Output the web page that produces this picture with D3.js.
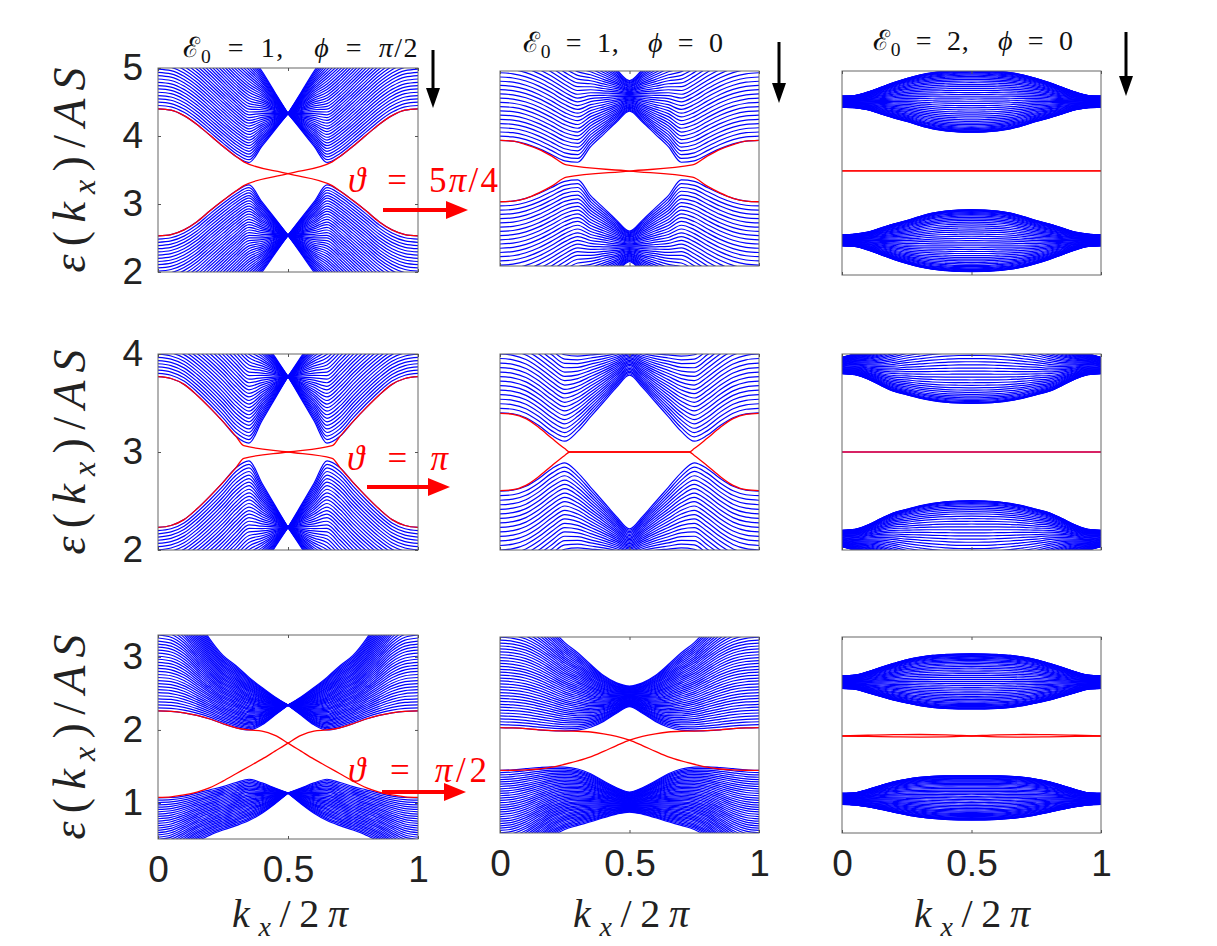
<!DOCTYPE html>
<html>
<head>
<meta charset="utf-8">
<script src="https://cdn.jsdelivr.net/npm/d3@7"></script>
<style>
  html, body { margin: 0; padding: 0; background: #fff; }
  svg { display: block; }
</style>
</head>
<body>
<svg id="chart" width="1217" height="946"></svg>
<script>
// k_x/2pi sample points on the half zone, bands are mirror symmetric about 0.5
const kHalf = [0, 0.05, 0.1, 0.15, 0.2, 0.25, 0.3, 0.35, 0.4, 0.45, 0.5];
const kFull = [0, 0.05, 0.1, 0.15, 0.2, 0.25, 0.3, 0.35, 0.4, 0.45, 0.5,
               0.55, 0.6, 0.65, 0.7, 0.75, 0.8, 0.85, 0.9, 0.95, 1];
const kEdge = [0, 0.1, 0.2, 0.3, 0.4, 0.5, 0.6, 0.7, 0.8, 0.9, 1];

// row 1, E0=1, phi=pi/2 (theta = 5pi/4)
const p1UpIn  = [4.40, 4.38, 4.30, 4.17, 4.01, 3.85, 3.70, 3.61, 3.85, 4.09, 4.33];
const p1UpOut = [6.30, 6.27, 6.18, 6.03, 5.84, 5.63, 5.42, 5.22, 4.95, 4.64, 4.33];
const p1LoIn  = [2.53, 2.55, 2.62, 2.74, 2.90, 3.05, 3.19, 3.28, 3.03, 2.79, 2.54];
const p1LoOut = [0.70, 0.73, 0.82, 0.96, 1.14, 1.34, 1.55, 1.76, 2.00, 2.27, 2.54];
const p1RedK  = [0, 0.05, 0.1, 0.15, 0.2, 0.25, 0.3, 0.33, 0.5, 0.67, 0.7, 0.75, 0.8, 0.85, 0.9, 0.95, 1];
const p1RedE  = [4.40, 4.38, 4.30, 4.17, 4.01, 3.85, 3.70, 3.62, 3.445, 3.27, 3.19, 3.05, 2.90, 2.74, 2.62, 2.55, 2.53];

// row 1, E0=1, phi=0
const p2UpIn  = [3.95, 3.94, 3.90, 3.83, 3.74, 3.65, 3.63, 3.86, 4.04, 4.22, 4.38];
const p2UpOut = [6.00, 5.98, 5.93, 5.85, 5.74, 5.60, 5.46, 5.31, 5.15, 4.99, 4.83];
const p2LoIn  = [3.05, 3.06, 3.10, 3.17, 3.26, 3.35, 3.37, 3.14, 2.96, 2.78, 2.62];
const p2LoOut = [1.00, 1.02, 1.07, 1.15, 1.26, 1.40, 1.54, 1.69, 1.85, 2.01, 2.17];
const p2RedK  = [0, 0.05, 0.1, 0.15, 0.2, 0.257, 0.5, 0.743, 0.8, 0.85, 0.9, 0.95, 1];
const p2RedE  = [3.95, 3.94, 3.89, 3.82, 3.72, 3.59, 3.50, 3.41, 3.28, 3.18, 3.10, 3.06, 3.05];

// row 1, E0=2, phi=0
const p3UpTop = [4.60, 4.61, 4.66, 4.73, 4.80, 4.86, 4.91, 4.945, 4.965, 4.978, 4.98];
const p3UpBot = [4.44, 4.43, 4.40, 4.34, 4.28, 4.23, 4.17, 4.12, 4.09, 4.075, 4.07];
const p3LoTop = [2.56, 2.57, 2.60, 2.66, 2.72, 2.77, 2.83, 2.88, 2.91, 2.925, 2.93];
const p3LoBot = [2.40, 2.39, 2.34, 2.27, 2.20, 2.14, 2.09, 2.055, 2.035, 2.022, 2.02];
const p3RedE  = [3.5, 3.5, 3.5, 3.5, 3.5, 3.5, 3.5, 3.5, 3.5, 3.5, 3.5];

// row 2, E0=1, phi=pi/2 (theta = pi)
const p4UpIn  = [3.77, 3.75, 3.69, 3.58, 3.45, 3.31, 3.16, 3.09, 3.32, 3.545, 3.77];
const p4UpOut = [4.91, 4.90, 4.87, 4.82, 4.74, 4.64, 4.52, 4.36, 4.17, 3.97, 3.77];
const p4LoIn  = [2.23, 2.25, 2.31, 2.42, 2.55, 2.69, 2.84, 2.91, 2.68, 2.455, 2.23];
const p4LoOut = [1.09, 1.10, 1.13, 1.18, 1.26, 1.36, 1.48, 1.64, 1.83, 2.03, 2.23];
const p4RedK  = [0, 0.05, 0.1, 0.15, 0.2, 0.25, 0.3, 0.33, 0.5, 0.67, 0.7, 0.75, 0.8, 0.85, 0.9, 0.95, 1];
const p4RedE  = [3.77, 3.75, 3.69, 3.58, 3.45, 3.31, 3.16, 3.065, 3.0, 2.935, 2.84, 2.69, 2.55, 2.42, 2.31, 2.25, 2.23];

// row 2, E0=1, phi=0
const p5UpIn  = [3.40, 3.39, 3.35, 3.27, 3.17, 3.11, 3.21, 3.36, 3.51, 3.66, 3.785];
const p5UpOut = [5.20, 5.18, 5.13, 5.05, 4.95, 4.83, 4.71, 4.59, 4.47, 4.37, 4.32];
const p5LoIn  = [2.60, 2.61, 2.65, 2.73, 2.83, 2.89, 2.79, 2.64, 2.49, 2.34, 2.215];
const p5LoOut = [0.80, 0.82, 0.87, 0.95, 1.05, 1.17, 1.29, 1.41, 1.53, 1.63, 1.68];
const p5RedK  = [0, 0.05, 0.1, 0.15, 0.2, 0.25, 0.27, 0.5, 0.73, 0.75, 0.8, 0.85, 0.9, 0.95, 1];
const p5RedE  = [3.395, 3.385, 3.34, 3.25, 3.14, 3.035, 3.0, 3.0, 3.0, 2.965, 2.86, 2.75, 2.66, 2.615, 2.605];

// row 2, E0=2, phi=0
const p6UpTop = [3.965, 4.0, 4.03, 4.09, 4.17, 4.24, 4.30, 4.35, 4.385, 4.405, 4.41];
const p6UpBot = [3.80, 3.79, 3.745, 3.68, 3.62, 3.585, 3.55, 3.525, 3.508, 3.50, 3.497];
const p6LoTop = [2.20, 2.21, 2.255, 2.32, 2.38, 2.415, 2.45, 2.475, 2.492, 2.50, 2.503];
const p6LoBot = [2.035, 2.0, 1.97, 1.91, 1.83, 1.76, 1.70, 1.65, 1.615, 1.595, 1.59];
const p6RedE  = [3.0, 3.0, 3.0, 3.0, 3.0, 3.0, 3.0, 3.0, 3.0, 3.0, 3.0];

// row 3, E0=1, phi=pi/2 (theta = pi/2)
const p7UpIn  = [2.26, 2.255, 2.235, 2.20, 2.15, 2.085, 2.03, 2.00, 2.07, 2.205, 2.34];
const p7UpOut = [4.05, 4.00, 3.82, 3.52, 3.24, 3.02, 2.88, 2.72, 2.58, 2.45, 2.34];
const p7LoIn  = [1.07, 1.075, 1.095, 1.135, 1.18, 1.225, 1.28, 1.325, 1.275, 1.205, 1.136];
const p7LoOut = [0.15, 0.20, 0.33, 0.47, 0.56, 0.63, 0.69, 0.76, 0.86, 0.99, 1.136];
const p7RedE  = [2.26, 2.255, 2.235, 2.20, 2.15, 2.085, 2.03, 2.00, 1.985, 1.925, 1.82,
                 1.71, 1.60, 1.50, 1.40, 1.30, 1.21, 1.15, 1.11, 1.085, 1.076];

// row 3, E0=1, phi=0
const p8UpIn  = [1.99, 1.985, 1.975, 1.96, 1.95, 1.945, 1.955, 1.995, 2.075, 2.185, 2.275];
const p8UpOut = [3.70, 3.68, 3.62, 3.50, 3.33, 3.15, 3.01, 2.85, 2.70, 2.60, 2.557];
const p8LoIn  = [1.407, 1.415, 1.43, 1.445, 1.455, 1.45, 1.425, 1.36, 1.26, 1.17, 1.11];
const p8LoOut = [0.05, 0.08, 0.18, 0.34, 0.50, 0.60, 0.655, 0.705, 0.76, 0.81, 0.838];
const p8RedE  = [1.99, 1.985, 1.975, 1.96, 1.95, 1.943, 1.94, 1.93, 1.905, 1.87, 1.82,
                 1.745, 1.665, 1.59, 1.535, 1.49, 1.45, 1.425, 1.412, 1.408, 1.407];

// row 3, E0=2, phi=0
const p9UpTop = [2.72, 2.73, 2.775, 2.835, 2.89, 2.94, 2.975, 3.0, 3.012, 3.018, 3.02];
const p9UpBot = [2.55, 2.54, 2.49, 2.44, 2.39, 2.35, 2.315, 2.29, 2.277, 2.27, 2.268];
const p9LoTop = [1.118, 1.125, 1.17, 1.225, 1.275, 1.31, 1.335, 1.35, 1.356, 1.358, 1.358];
const p9LoBot = [0.968, 0.96, 0.935, 0.90, 0.86, 0.825, 0.795, 0.775, 0.762, 0.756, 0.754];
const p9RedE  = [1.9, 1.91, 1.918, 1.92, 1.915, 1.9, 1.888, 1.885, 1.888, 1.895, 1.9];

const xTicks = [0, 0.5, 1];
const titleE0 = ["1", "1", "2"];
const titlePhi = [["π", "/2"], ["", "0"], ["", "0"]];
const thetas = [["5", "π", "/4"], ["", "π", ""], ["", "π", "/2"]];

// table for drawing; kind: cone (bands meet at a point), waist, eye (lens shaped)
const panels = [
  {box: [158, 418, 68, 272], y: [2, 5], ticks: [2, 3, 4, 5], kind: "cone",
   bands: [[p1UpIn, p1UpOut, 40], [p1LoIn, p1LoOut, 40]], redK: p1RedK, redE: p1RedE},
  {box: [500, 759, 71, 266], y: [2.106, 4.97], kind: "waist",
   bands: [[p2UpIn, p2UpOut, 34], [p2LoIn, p2LoOut, 34]], redK: p2RedK, redE: p2RedE},
  {box: [842, 1101, 71, 275], y: [1.97, 4.97], kind: "eye",
   bands: [[p3UpBot, p3UpTop, 45], [p3LoBot, p3LoTop, 45]], redK: kEdge, redE: p3RedE},
  {box: [158, 418, 354, 550], y: [2, 4], ticks: [2, 3, 4], kind: "cone",
   bands: [[p4UpIn, p4UpOut, 36], [p4LoIn, p4LoOut, 36]], redK: p4RedK, redE: p4RedE},
  {box: [500, 759, 354, 550], y: [2, 4], kind: "waist",
   bands: [[p5UpIn, p5UpOut, 40], [p5LoIn, p5LoOut, 40]], redK: p5RedK, redE: p5RedE},
  {box: [842, 1101, 354, 550], y: [2, 4], kind: "eye", redColor: "#d4145a",
   bands: [[p6UpBot, p6UpTop, 45], [p6LoBot, p6LoTop, 45]], redK: kEdge, redE: p6RedE},
  {box: [158, 418, 635, 839], y: [0.507, 3.30], ticks: [1, 2, 3], kind: "cone", xLabels: true,
   bands: [[p7UpIn, p7UpOut, 44], [p7LoIn, p7LoOut, 30]], redK: kFull, redE: p7RedE},
  {box: [500, 759, 637, 833], y: [0.552, 3.226], kind: "waist", xLabels: true,
   bands: [[p8UpIn, p8UpOut, 44], [p8LoIn, p8LoOut, 44]], redK: kFull, redE: p8RedE},
  {box: [842, 1101, 637, 833], y: [0.577, 3.25], kind: "eye", xLabels: true,
   bands: [[p9UpBot, p9UpTop, 45], [p9LoBot, p9LoTop, 45]], redK: kEdge, redE: p9RedE}
];

const svg = d3.select("#chart");
svg.append("rect").attr("width", 1217).attr("height", 946).attr("fill", "#fff");
const defs = svg.append("defs");
const serif = "'Liberation Serif', 'DejaVu Serif', serif";
const sans = "'Liberation Sans', Arial, sans-serif";
const sp = "\u2002";

panels.forEach((p, pi) => {
  const [x0, x1, y0, y1] = p.box;
  const x = d3.scaleLinear().domain([0, 1]).range([x0, x1]);
  const y = d3.scaleLinear().domain(p.y).range([y1, y0]);
  const line = d3.line().x(d => x(d[0])).y(d => y(d[1])).curve(d3.curveMonotoneX);

  defs.append("clipPath").attr("id", "clip" + pi)
    .append("rect").attr("x", x0).attr("y", y0).attr("width", x1 - x0).attr("height", y1 - y0);
  const plot = svg.append("g").attr("clip-path", `url(#clip${pi})`);

  // bulk states: one curve per transverse mode, filling the band between its edges
  const blue = plot.append("g").attr("fill", "none").attr("stroke", "#0000ff").attr("stroke-width", 1.2);
  p.bands.forEach(([inner, outer, n]) => {
    d3.range(n).forEach(i => {
      const t = p.kind === "eye" ? (1 - Math.cos(Math.PI * i / (n - 1))) / 2 : i / (n - 1);
      const es = inner.map((e, j) => e + t * (outer[j] - e));
      const left = kHalf.map((k, j) => [k, es[j]]);
      const right = kHalf.map((k, j) => [1 - k, es[j]]).reverse();
      if (p.kind === "cone") {
        blue.append("path").attr("d", line(left));
        blue.append("path").attr("d", line(right));
      } else {
        blue.append("path").attr("d", line(left.concat(right.slice(1))));
      }
    });
  });

  // edge states: the pair is mirrored in k
  const red1 = p.redK.map((k, j) => [k, p.redE[j]]);
  const red2 = p.redK.map((k, j) => [1 - k, p.redE[j]]).reverse();
  plot.append("g").attr("fill", "none").attr("stroke", p.redColor || "#ff0000").attr("stroke-width", 1.3)
    .selectAll("path").data([red1, red2]).join("path").attr("d", d => line(d));

  // frame and ticks
  const frame = svg.append("g").attr("color", "#555");
  frame.append("rect").attr("x", x0).attr("y", y0).attr("width", x1 - x0).attr("height", y1 - y0)
    .attr("fill", "none").attr("stroke", "#666").attr("stroke-width", 1);
  frame.append("g").attr("transform", `translate(0,${y1})`)
    .call(d3.axisBottom(x).tickValues(xTicks).tickSize(-3).tickPadding(17)
      .tickFormat(d => p.xLabels ? d3.format("")(d) : ""));
  frame.append("g").attr("transform", `translate(0,${y0})`)
    .call(d3.axisTop(x).tickValues(xTicks).tickSize(-3).tickFormat(""));
  if (p.ticks) {
    frame.append("g").attr("transform", `translate(${x0},0)`)
      .call(d3.axisLeft(y).tickValues(p.ticks).tickSize(-3).tickPadding(15).tickFormat(d3.format("d")));
    frame.append("g").attr("transform", `translate(${x1},0)`)
      .call(d3.axisRight(y).tickValues(p.ticks).tickSize(-3).tickFormat(""));
  }
  frame.selectAll(".domain").remove();
  frame.selectAll("text").attr("fill", "#222").attr("font-family", sans).attr("font-size", 37);
});

// text with math-like pieces: [text, italic, subscript]
function mathText(sel, parts, size) {
  let shifted = false;
  parts.filter(d => d[0] !== "").forEach(([s, it, sub]) => {
    const ts = sel.append("tspan").text(s);
    if (it) ts.attr("font-style", "italic");
    if (sub) { ts.attr("font-size", size * 0.7).attr("dy", size * 0.22); shifted = true; }
    else if (shifted) { ts.attr("dy", -size * 0.22); shifted = false; }
  });
}

// y labels
[170, 452, 737].forEach(cy => {
  const t = svg.append("text").attr("transform", `translate(85,${cy}) rotate(-90)`)
    .attr("text-anchor", "middle").attr("font-family", serif).attr("font-size", 46)
    .attr("fill", "#222").attr("textLength", 205).attr("lengthAdjust", "spacing");
  mathText(t, [["ε", true], ["("], ["k", true], ["x", true, true], [")/"], ["AS", true]], 46);
});

// x labels
[290, 631, 972].forEach(cx => {
  const t = svg.append("text").attr("x", cx).attr("y", 927)
    .attr("text-anchor", "middle").attr("font-family", serif).attr("font-size", 40)
    .attr("fill", "#222").attr("textLength", 116).attr("lengthAdjust", "spacing");
  mathText(t, [["k", true], ["x", true, true], ["/2"], ["π", true]], 40);
});

// column titles
const titlePos = [[300, 57, 235], [623, 52, 200], [973, 50, 200]];
titleE0.forEach((e0, i) => {
  const [cx, by, w] = titlePos[i];
  const t = svg.append("text").attr("x", cx).attr("y", by)
    .attr("text-anchor", "middle").attr("font-family", serif).attr("font-size", 28)
    .attr("fill", "#111").attr("textLength", w).attr("lengthAdjust", "spacing");
  mathText(t, [["ℰ"], ["0", false, true], [sp + "=" + sp + e0 + ",\u2003"], ["ϕ", true],
    [sp + "=" + sp], [titlePhi[i][0], true], [titlePhi[i][1]]], 28);
});

// red theta labels and arrows
const thetaPos = [[348, 192, 150], [347, 470, 101], [348, 782, 139]];
thetas.forEach(([a, pi, b], i) => {
  const [lx, by, w] = thetaPos[i];
  const t = svg.append("text").attr("x", lx).attr("y", by)
    .attr("font-family", serif).attr("font-size", 35).attr("fill", "#ff0000")
    .attr("textLength", w).attr("lengthAdjust", "spacing");
  mathText(t, [["ϑ", true], [sp + "=" + sp + a], [pi, true], [b]], 35);
});

const redArrows = [[383, 468, 210], [367, 450, 487], [382, 466, 792]];
redArrows.forEach(([a, b, yy]) => {
  svg.append("line").attr("x1", a).attr("x2", b - 16).attr("y1", yy).attr("y2", yy)
    .attr("stroke", "#ff0000").attr("stroke-width", 4);
  svg.append("path").attr("d", `M${b},${yy}L${b - 22},${yy - 9}L${b - 22},${yy + 9}Z`).attr("fill", "#ff0000");
});

const blackArrows = [[433, 50, 108], [779, 42, 103], [1126, 32, 96]];
blackArrows.forEach(([xx, a, b]) => {
  svg.append("line").attr("x1", xx).attr("x2", xx).attr("y1", a).attr("y2", b - 14)
    .attr("stroke", "#000").attr("stroke-width", 3);
  svg.append("path").attr("d", `M${xx},${b}L${xx - 7},${b - 20}L${xx + 7},${b - 20}Z`).attr("fill", "#000");
});
</script>
</body>
</html>
